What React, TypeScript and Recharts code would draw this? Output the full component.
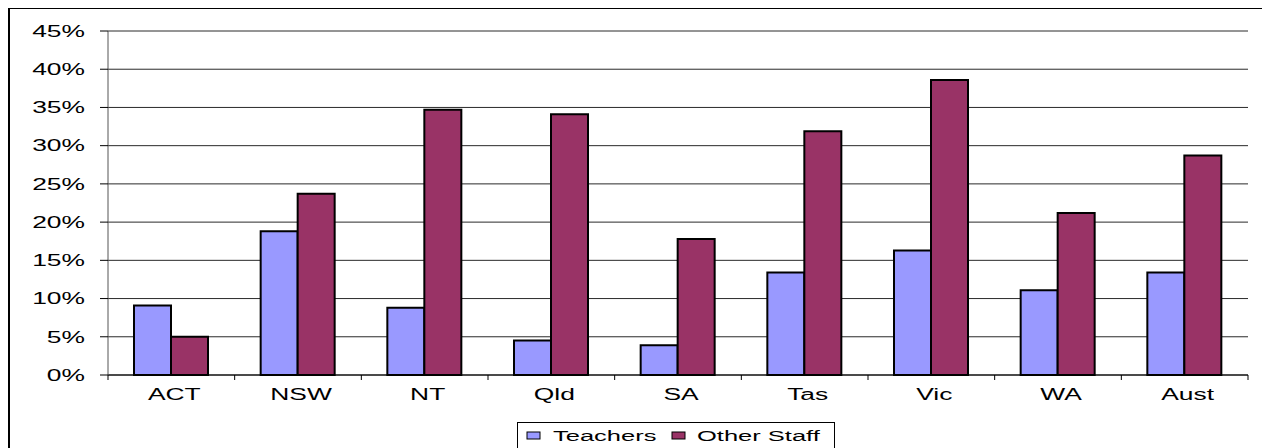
import React from 'react';
import { BarChart, Bar, XAxis, YAxis, CartesianGrid, Legend } from 'recharts';

// keep the oversized frame from producing a scrollbar
if (typeof document !== 'undefined') {
  document.documentElement.style.overflow = 'hidden';
}

const CATEGORIES = ['ACT', 'NSW', 'NT', 'Qld', 'SA', 'Tas', 'Vic', 'WA', 'Aust'];
const TEACHERS = [9.1, 18.8, 8.8, 4.5, 3.9, 13.4, 16.3, 11.1, 13.4];
const OTHER_STAFF = [5.0, 23.7, 34.7, 34.1, 17.8, 31.9, 38.6, 21.2, 28.7];
const Y_TICKS = [0, 5, 10, 15, 20, 25, 30, 35, 40, 45];

const SERIES = [
  { key: 'teachers', name: 'Teachers', color: '#9999FF' },
  { key: 'other', name: 'Other Staff', color: '#993366' },
];

const data = CATEGORIES.map((name, i) => ({
  name,
  teachers: TEACHERS[i],
  other: OTHER_STAFF[i],
}));

const FONT = '"Liberation Sans", Arial, sans-serif';
const STRETCH = 1.65;

const CHART_W = 1255;
const CHART_H = 446;
const MARGIN = { top: 22, right: 17, bottom: 50, left: 0 };
const Y_AXIS_W = 98;
const PLOT_W = CHART_W - MARGIN.left - MARGIN.right - Y_AXIS_W;
const BAND = PLOT_W / CATEGORIES.length;

const YTick = (props: any) => {
  const { x, y, payload } = props;
  return (
    <g transform={`translate(${x},${y}) scale(${STRETCH},1)`}>
      <text x={0} y={0} dy="0.36em" textAnchor="end" fontFamily={FONT} fontSize={16} fill="#000">
        {`${payload.value}%`}
      </text>
    </g>
  );
};

const XTick = (props: any) => {
  const { x, y, payload, index } = props;
  const left = x - BAND / 2;
  return (
    <g>
      <line x1={left} y1={y} x2={left} y2={y + 5} stroke="#000" />
      {index === CATEGORIES.length - 1 && (
        <line x1={x + BAND / 2} y1={y} x2={x + BAND / 2} y2={y + 5} stroke="#000" />
      )}
      <g transform={`translate(${x + 3},${y + 19}) scale(${STRETCH},1)`}>
        <text x={0} y={0} dy="0.36em" textAnchor="middle" fontFamily={FONT} fontSize={16} fill="#000">
          {payload.value}
        </text>
      </g>
    </g>
  );
};

const LegendBox = () => (
  <svg width={318} height={40} style={{ display: 'block' }}>
    <rect x={0.5} y={0.5} width={317} height={39} fill="#fff" stroke="#000" />
    <rect x={10} y={10} width={13} height={7} fill={SERIES[0].color} stroke="#000" />
    <g transform={`translate(36,14) scale(1.7,1)`}>
      <text x={0} y={0} dy="0.36em" fontFamily={FONT} fontSize={15} fill="#000">
        {SERIES[0].name}
      </text>
    </g>
    <rect x={155} y={10} width={13} height={7} fill={SERIES[1].color} stroke="#000" />
    <g transform={`translate(180,14) scale(1.7,1)`}>
      <text x={0} y={0} dy="0.36em" fontFamily={FONT} fontSize={15} fill="#000">
        {SERIES[1].name}
      </text>
    </g>
  </svg>
);

export default function App() {
  return (
    <div
      style={{
        width: 1259,
        height: 450,
        marginTop: -1,
        border: '2px solid #000',
        boxSizing: 'border-box',
        background: '#fff',
        position: 'relative',
      }}
    >
      <BarChart
        width={CHART_W}
        height={CHART_H}
        data={data}
        margin={MARGIN}
        barSize={37}
        barGap={0}
      >
        <CartesianGrid vertical={false} stroke="#2a2a2a" />
        <XAxis
          dataKey="name"
          height={30}
          axisLine={{ stroke: '#000' }}
          tickLine={false}
          tickSize={0}
          tickMargin={0}
          interval={0}
          tick={<XTick />}
        />
        <YAxis
          width={Y_AXIS_W}
          domain={[0, 45]}
          ticks={Y_TICKS}
          interval={0}
          axisLine={{ stroke: '#555' }}
          tickLine={{ stroke: '#000' }}
          tickSize={8}
          tickMargin={15}
          tick={<YTick />}
        />
        <YAxis
          yAxisId="right"
          orientation="right"
          width={0}
          tick={false}
          tickLine={false}
          axisLine={{ stroke: '#999', strokeWidth: 2 }}
        />
        <Legend
          layout="horizontal"
          verticalAlign="middle"
          align="center"
          wrapperStyle={{ top: 413, left: 507, width: 318, height: 40 }}
          content={<LegendBox />}
        />
        {SERIES.map((s) => (
          <Bar
            key={s.key}
            dataKey={s.key}
            name={s.name}
            fill={s.color}
            stroke="#000"
            strokeWidth={2}
            isAnimationActive={false}
          />
        ))}
      </BarChart>
    </div>
  );
}
